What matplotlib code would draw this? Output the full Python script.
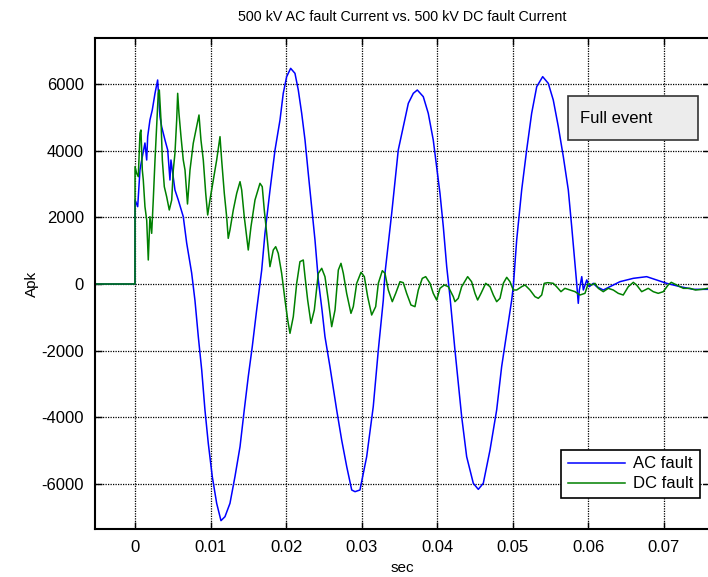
#Python code for plotting
import numpy as np
import matplotlib.pyplot as plt
from matplotlib.patches import Rectangle

plt.rcParams['font.family'] = ['Liberation Sans', 'DejaVu Sans']
plt.rcParams['axes.unicode_minus'] = False

#AC fault current (time in ms, current in A peak)
t_ac = [-5.3, 0.00, 0.01, 0.36, 0.66, 0.89, 1.32, 1.55, 1.68, 1.98, 2.29, 2.65, 3.00, 3.08,
        3.31, 3.53, 3.97, 4.33, 4.63, 4.76, 5.29, 5.73, 6.39, 6.84, 7.50, 7.94, 8.38, 8.83,
        9.26, 9.70, 10.23, 10.81, 11.38, 11.91, 12.57, 13.23, 13.90, 14.46, 14.99, 15.52,
        16.10, 16.77, 17.20, 17.87, 18.53, 19.19, 19.62, 20.07, 20.60, 21.17, 21.61, 22.06,
        22.50, 22.93, 23.38, 23.82, 24.26, 24.75, 25.14, 25.80, 26.69, 27.35, 28.02, 28.68,
        29.12, 29.77, 30.66, 31.53, 32.20, 32.86, 33.08, 33.97, 34.84, 35.50, 36.17, 36.83,
        37.36, 38.15, 38.81, 39.47, 39.92, 40.36, 40.80, 41.25, 41.68, 42.34, 43.23, 43.89,
        44.77, 45.43, 46.09, 46.98, 47.86, 48.52, 49.19, 49.85, 50.06, 50.51, 51.17, 51.83,
        52.49, 53.16, 53.95, 54.69, 55.35, 56.02, 56.68, 57.34, 57.79, 58.23, 58.45, 58.66,
        58.80, 59.12, 59.33, 59.78, 60.12, 60.65, 61.09, 61.97, 62.86, 64.18, 65.94, 67.71,
        69.03, 70.36, 72.12, 73.88, 75.82]
i_ac = [0, 0, 2520, 2320, 3420, 3720, 4230, 3720, 4420, 4920, 5220, 5720, 6120, 5820,
        5020, 4720, 4320, 4020, 3120, 3720, 2820, 2520, 2020, 1230, 330, -500, -1580, -2580,
        -3780, -4780, -5780, -6580, -7100, -6980, -6580, -5780, -4880, -3780, -2780, -1880,
        -780, 420, 1520, 2820, 4020, 4920, 5720, 6220, 6470, 6320, 5820, 5120,
        4320, 3320, 2320, 1320, 120, -780, -1580, -2480, -3780, -4680, -5480, -6180,
        -6230, -6180, -5180, -3680, -1980, -480, 320, 2120, 4020, 4720, 5420, 5720,
        5820, 5620, 5120, 4320, 3520, 2720, 1720, 520, -380, -1980, -3980, -5180,
        -5980, -6160, -5980, -4980, -3780, -2480, -1480, -480, -80, 1320, 2820, 4020,
        5120, 5920, 6220, 6020, 5520, 4720, 3820, 2820, 1720, 580, 20, -580,
        -180, 220, -180, 120, -80, 20, -80, -180, -80, 70, 170, 220,
        120, 20, -80, -160, -160]

#DC fault current (time in ms, current in A peak)
t_dc = [-5.3, 0.00, 0.01, 0.22, 0.44, 0.66, 0.79, 0.97, 1.10, 1.32, 1.55, 1.76, 1.98, 2.21,
        2.42, 2.65, 2.87, 3.08, 3.22, 3.44, 3.62, 3.88, 4.19, 4.54, 4.86, 5.07, 5.29, 5.52,
        5.65, 5.82, 6.09, 6.39, 6.62, 6.95, 7.28, 7.71, 8.16, 8.47, 8.73, 9.04, 9.36, 9.62,
        9.92, 10.36, 10.81, 11.25, 11.47, 11.82, 12.13, 12.34, 12.57, 13.01, 13.46, 13.90,
        14.12, 14.46, 14.78, 14.99, 15.35, 15.88, 16.54, 16.84, 17.11, 17.43, 17.86, 18.30,
        18.62, 18.96, 19.41, 19.85, 20.21, 20.51, 20.95, 21.40, 21.83, 22.27, 22.50, 22.85,
        23.29, 23.73, 24.26, 24.71, 25.14, 25.58, 26.03, 26.47, 26.91, 27.26, 27.57, 28.01,
        28.58, 28.89, 29.34, 29.91, 30.35, 30.79, 31.32, 31.85, 32.20, 32.73, 33.08, 33.52,
        34.05, 34.50, 35.07, 35.50, 35.95, 36.52, 37.05, 37.49, 38.02, 38.47, 39.04, 39.47,
        39.92, 40.36, 40.93, 41.46, 42.12, 42.34, 42.78, 43.23, 44.02, 44.54, 44.99, 45.34,
        45.79, 46.41, 46.98, 47.42, 47.86, 48.30, 48.74, 49.19, 49.62, 50.06, 50.51, 51.17,
        51.61, 52.27, 52.93, 53.37, 53.82, 54.16, 54.61, 55.35, 55.79, 56.37, 56.89, 57.56,
        58.23, 58.88, 59.55, 59.98, 60.42, 60.87, 61.31, 61.97, 62.63, 63.29, 63.95, 64.61,
        65.28, 65.94, 66.38, 67.05, 67.92, 68.58, 69.24, 69.91, 70.55, 70.97, 71.68, 72.56,
        73.44, 74.17, 75.05, 75.82]
i_dc = [0, 0, 3520, 3320, 3220, 4520, 4620, 3420, 3120, 2320, 1920, 720, 2020, 1520,
        2520, 3720, 4720, 5720, 5820, 4920, 3720, 2920, 2620, 2220, 2520, 3420, 3920, 4920,
        5720, 5120, 4420, 3720, 3420, 2400, 3420, 4220, 4720, 5070, 4320, 3720, 2720, 2070,
        2520, 3120, 3720, 4420, 3720, 2720, 2020, 1370, 1620, 2220, 2720, 3070,
        2820, 2020, 1420, 1020, 1720, 2520, 3020, 2920, 2220, 1520, 520, 1020,
        1120, 920, 320, -480, -1080, -1480, -980, 20, 670, 720, 220, -480,
        -1180, -780, 320, 470, 220, -480, -1280, -780, 420, 620, 320, -280,
        -880, -680, 20, 350, 220, -380, -930, -680, 20, 400, 320, -180,
        -530, -280, 70, 40, -280, -630, -680, -180, 170, 220, 20, -280,
        -480, -130, -30, -80, -380, -530, -430, -80, 220, 70, -280, -480,
        -280, 20, -80, -330, -530, -430, 20, 200, 70, -180, -180, -80,
        -30, -180, -380, -430, -330, 20, 40, 20, -80, -230, -130, -180,
        -230, -330, -280, 20, -30, 20, -130, -230, -130, -180, -280, -330,
        -80, 50, -30, -230, -130, -230, -280, -230, -30, 50, -30, -130,
        -130, -180, -160, -130]

x_ticks = [0, 0.01, 0.02, 0.03, 0.04, 0.05, 0.06, 0.07]
y_ticks = [-6000, -4000, -2000, 0, 2000, 4000, 6000]

fig = plt.figure(figsize=(7.08, 5.77), dpi=100)
ax = fig.add_axes([95/708, 48/577, 615/708, 491/577])

ax.plot(np.array(t_ac) / 1000, i_ac, color='#0000ff', lw=1.1, label='AC fault')
ax.plot(np.array(t_dc) / 1000, i_dc, color='#008000', lw=1.1, label='DC fault')

ax.set_xlim(-0.00529, 0.07609)
ax.set_ylim(-7350, 7380)
ax.set_xticks(x_ticks)
ax.set_xticklabels(['0', '0.01', '0.02', '0.03', '0.04', '0.05', '0.06', '0.07'])
ax.set_yticks(y_ticks)
ax.tick_params(direction='in', length=5, width=1, top=True, right=True,
               labelsize=12, pad=8, colors='black')
for s in ax.spines.values():
    s.set_linewidth(1.5)
ax.grid(True, color='black', linestyle=(0, (1, 1)), linewidth=0.9)

ax.set_title('500 kV AC fault Current vs. 500 kV DC fault Current', fontsize=10.3, pad=12)
ax.set_xlabel('sec', fontsize=11, labelpad=4)
ax.set_ylabel('Apk', fontsize=11)
ax.yaxis.set_label_coords(-0.091, 0.5)

#Legend box
leg = ax.legend(loc='lower right', bbox_to_anchor=(0.984, 0.063), borderaxespad=0,
                fancybox=False, framealpha=1, edgecolor='black', fontsize=12,
                handlelength=3.4, handletextpad=0.5, borderpad=0.4, labelspacing=0.3)
leg.get_frame().set_linewidth(1.2)

#Annotation box
ax.add_patch(Rectangle((0.769, 0.792), 0.211, 0.0896, transform=ax.transAxes,
                       facecolor='#ececec', edgecolor='#333333', lw=1.2, zorder=5))
ax.text(0.789, 0.837, 'Full event', transform=ax.transAxes, fontsize=12,
        va='center', ha='left', zorder=6)

#Save the plot
plt.savefig('out.png', dpi=100)
